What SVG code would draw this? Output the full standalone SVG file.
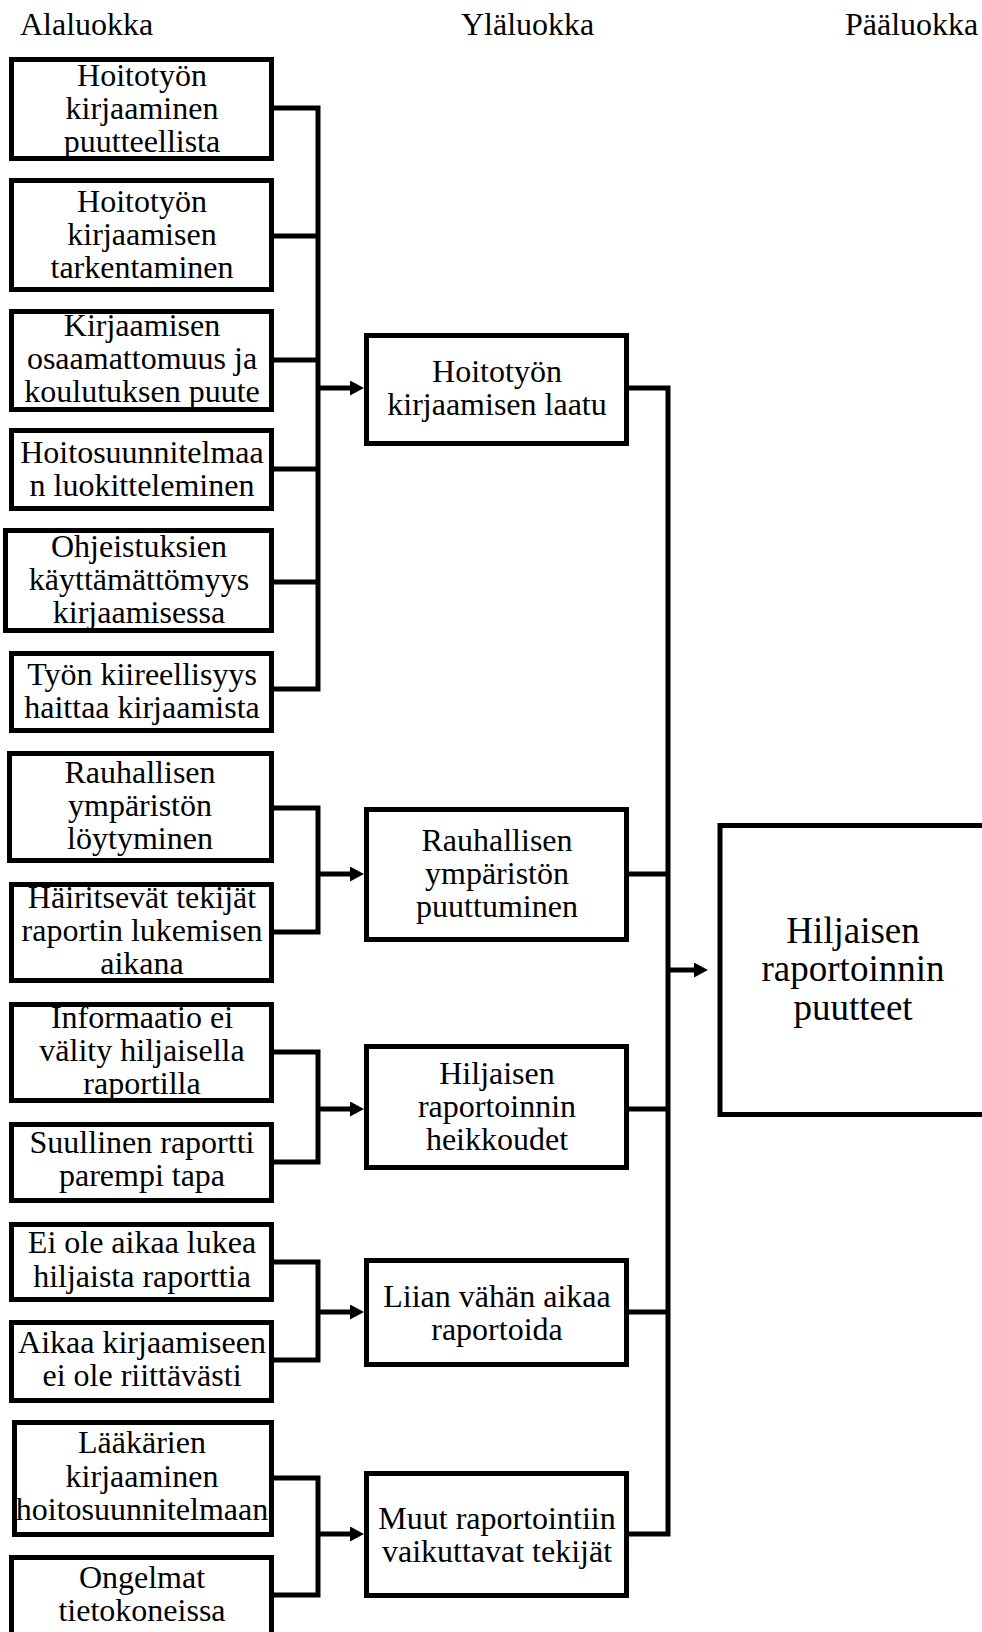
<svg xmlns="http://www.w3.org/2000/svg" width="982" height="1632" viewBox="0 0 982 1632">
<style>
.box{fill:#fff;stroke:#000;stroke-width:5}
.t{font-family:"Liberation Serif","Times New Roman",serif;font-size:32px;fill:#000;text-anchor:middle}
.big{font-size:37px}
.h{font-family:"Liberation Serif","Times New Roman",serif;font-size:32px;fill:#000}
.c{fill:none;stroke:#000;stroke-width:5;stroke-linejoin:miter}
</style>
<defs>
<marker id="arr" markerUnits="userSpaceOnUse" markerWidth="14" markerHeight="15" refX="0" refY="7.5" orient="auto">
<path d="M0,0 L14,7.5 L0,15 z" fill="#000"/>
</marker>
</defs>
<rect width="982" height="1632" fill="#fff"/>
<g id="headers">
<text class="h" x="20" y="35">Alaluokka</text>
<text class="h" x="461" y="35">Yläluokka</text>
<text class="h" x="845" y="35">Pääluokka</text>
</g>
<g id="connectors">
<path class="c" d="M274 108 H318 V689 H274 M274 236 H318 M274 360 H318 M274 469 H318 M274 582 H318"/>
<path class="c" d="M318 388 H350" marker-end="url(#arr)"/>
<path class="c" d="M274 808 H318 V932 H274"/>
<path class="c" d="M318 874 H350" marker-end="url(#arr)"/>
<path class="c" d="M274 1052 H318 V1162 H274"/>
<path class="c" d="M318 1109 H350" marker-end="url(#arr)"/>
<path class="c" d="M274 1262 H318 V1360 H274"/>
<path class="c" d="M318 1312 H350" marker-end="url(#arr)"/>
<path class="c" d="M274 1478 H318 V1595 H274"/>
<path class="c" d="M318 1534 H350" marker-end="url(#arr)"/>
<path class="c" d="M629 388 H668 V1534 H629 M629 874 H668 M629 1109 H668 M629 1312 H668"/>
<path class="c" d="M668 970 H694" marker-end="url(#arr)"/>
</g>
<g id="n1"><rect class="box" x="11.5" y="59.5" width="260" height="99"/><text class="t" x="142" y="86">Hoitotyön</text><text class="t" x="142" y="119">kirjaaminen</text><text class="t" x="142" y="152">puutteellista</text></g>
<g id="n2"><rect class="box" x="11.5" y="180.5" width="260" height="109"/><text class="t" x="142" y="211.5">Hoitotyön</text><text class="t" x="142" y="244.5">kirjaamisen</text><text class="t" x="142" y="277.5">tarkentaminen</text></g>
<g id="n3"><rect class="box" x="11.5" y="311.5" width="260" height="98"/><text class="t" x="142" y="336">Kirjaamisen</text><text class="t" x="142" y="369">osaamattomuus ja</text><text class="t" x="142" y="402">koulutuksen puute</text></g>
<g id="n4"><rect class="box" x="11.5" y="430.5" width="260" height="78"/><text class="t" x="142" y="462.5">Hoitosuunnitelmaa</text><text class="t" x="142" y="495.5">n luokitteleminen</text></g>
<g id="n5"><rect class="box" x="5.5" y="530.5" width="266" height="100"/><text class="t" x="139" y="557">Ohjeistuksien</text><text class="t" x="139" y="590">käyttämättömyys</text><text class="t" x="139" y="623">kirjaamisessa</text></g>
<g id="n6"><rect class="box" x="11.5" y="653.5" width="260" height="77"/><text class="t" x="142" y="684.5">Työn kiireellisyys</text><text class="t" x="142" y="717.5">haittaa kirjaamista</text></g>
<g id="n7"><rect class="box" x="9.5" y="753.5" width="262" height="107"/><text class="t" x="140" y="783">Rauhallisen</text><text class="t" x="140" y="816">ympäristön</text><text class="t" x="140" y="849">löytyminen</text></g>
<g id="n8"><rect class="box" x="11.5" y="884.5" width="260" height="96"/><text class="t" x="142" y="907.5">Häiritsevät tekijät</text><text class="t" x="142" y="940.5">raportin lukemisen</text><text class="t" x="142" y="973.5">aikana</text></g>
<g id="n9"><rect class="box" x="11.5" y="1004.5" width="260" height="96"/><text class="t" x="142" y="1028">Informaatio ei</text><text class="t" x="142" y="1061">välity hiljaisella</text><text class="t" x="142" y="1094">raportilla</text></g>
<g id="n10"><rect class="box" x="11.5" y="1124.5" width="260" height="76"/><text class="t" x="142" y="1152.5">Suullinen raportti</text><text class="t" x="142" y="1185.5">parempi tapa</text></g>
<g id="n11"><rect class="box" x="11.5" y="1224.5" width="260" height="75"/><text class="t" x="142" y="1253">Ei ole aikaa lukea</text><text class="t" x="142" y="1287">hiljaista raporttia</text></g>
<g id="n12"><rect class="box" x="11.5" y="1322.5" width="260" height="78"/><text class="t" x="142" y="1352.5">Aikaa kirjaamiseen</text><text class="t" x="142" y="1385.5">ei ole riittävästi</text></g>
<g id="n13"><rect class="box" x="14.5" y="1422.5" width="257" height="112"/><text class="t" x="142" y="1453">Lääkärien</text><text class="t" x="142" y="1487">kirjaaminen</text><text class="t" x="142" y="1520">hoitosuunnitelmaan</text></g>
<g id="n14"><rect class="box" x="11.5" y="1557.5" width="260" height="100"/><text class="t" x="142" y="1587.5">Ongelmat</text><text class="t" x="142" y="1620.5">tietokoneissa</text></g>
<g id="m1"><rect class="box" x="366.5" y="335.5" width="260" height="108"/><text class="t" x="497" y="381.5">Hoitotyön</text><text class="t" x="497" y="414.5">kirjaamisen laatu</text></g>
<g id="m2"><rect class="box" x="366.5" y="809.5" width="260" height="130"/><text class="t" x="497" y="851">Rauhallisen</text><text class="t" x="497" y="884">ympäristön</text><text class="t" x="497" y="917">puuttuminen</text></g>
<g id="m3"><rect class="box" x="366.5" y="1046.5" width="260" height="121"/><text class="t" x="497" y="1083.5">Hiljaisen</text><text class="t" x="497" y="1116.5">raportoinnin</text><text class="t" x="497" y="1149.5">heikkoudet</text></g>
<g id="m4"><rect class="box" x="366.5" y="1260.5" width="260" height="104"/><text class="t" x="497" y="1306.5">Liian vähän aikaa</text><text class="t" x="497" y="1339.5">raportoida</text></g>
<g id="m5"><rect class="box" x="366.5" y="1473.5" width="260" height="122"/><text class="t" x="497" y="1528.5">Muut raportointiin</text><text class="t" x="497" y="1561.5">vaikuttavat tekijät</text></g>
<g id="main"><rect class="box" x="720" y="825.5" width="280" height="289"/><text class="t big" x="853" y="942.5">Hiljaisen</text><text class="t big" x="853" y="981">raportoinnin</text><text class="t big" x="853" y="1019.5">puutteet</text></g>
</svg>
